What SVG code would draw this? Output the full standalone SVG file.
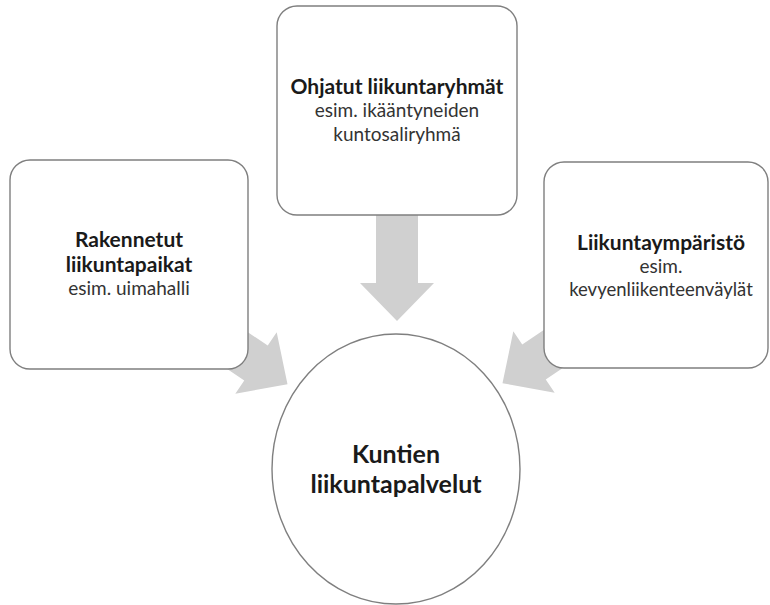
<svg xmlns="http://www.w3.org/2000/svg" xmlns:xlink="http://www.w3.org/1999/xlink" width="770" height="605" viewBox="0 0 770 605">
  <style>
    .box { fill: #ffffff; stroke: #7f7f7f; stroke-width: 1.4; }
    .arrow { fill: #d0d0d0; stroke: none; }
    .t { font-family: Lato, "Open Sans", sans-serif; text-anchor: middle; fill: #1a1a1a; }
    .b { font-weight: bold; }
    .r { fill: #333333; }
  </style>
  <defs>
    <!-- block arrow pointing along +x, head base at the origin -->
    <path id="blockArrow" d="M -80 -21 L 0 -21 L 0 -37 L 38 0 L 0 37 L 0 21 L -80 21 Z"/>
  </defs>

  <rect width="770" height="605" fill="#ffffff"/>

  <g id="connectors">
    <use xlink:href="#blockArrow" class="arrow" transform="translate(397 283) rotate(90)"/>
    <use xlink:href="#blockArrow" class="arrow" transform="translate(256 363) rotate(34)"/>
    <use xlink:href="#blockArrow" class="arrow" transform="translate(534 362) rotate(146)"/>
  </g>

  <g id="node-rakennetut">
    <rect class="box" x="10" y="160" width="238" height="209" rx="20" ry="20"/>
    <text class="t b" x="129" y="247" font-size="21">Rakennetut</text>
    <text class="t b" x="129" y="272" font-size="21">liikuntapaikat</text>
    <text class="t r" x="129" y="295" font-size="19">esim. uimahalli</text>
  </g>

  <g id="node-ohjatut">
    <rect class="box" x="277" y="6" width="240" height="209" rx="20" ry="20"/>
    <text class="t b" x="397" y="94" font-size="21">Ohjatut liikuntaryhmät</text>
    <text class="t r" x="397" y="117" font-size="19">esim. ikääntyneiden</text>
    <text class="t r" x="397" y="141" font-size="19">kuntosaliryhmä</text>
  </g>

  <g id="node-liikuntaymparisto">
    <rect class="box" x="544" y="162" width="224" height="206" rx="20" ry="20"/>
    <text class="t b" x="661" y="250" font-size="21">Liikuntaympäristö</text>
    <text class="t r" x="661" y="273" font-size="19">esim.</text>
    <text class="t r" x="661" y="296" font-size="18.5">kevyenliikenteenväylät</text>
  </g>

  <g id="node-kuntien">
    <ellipse class="box" cx="396" cy="469" rx="124" ry="135"/>
    <text class="t b" x="396" y="463" font-size="25">Kuntien</text>
    <text class="t b" x="396" y="493" font-size="25">liikuntapalvelut</text>
  </g>
</svg>
